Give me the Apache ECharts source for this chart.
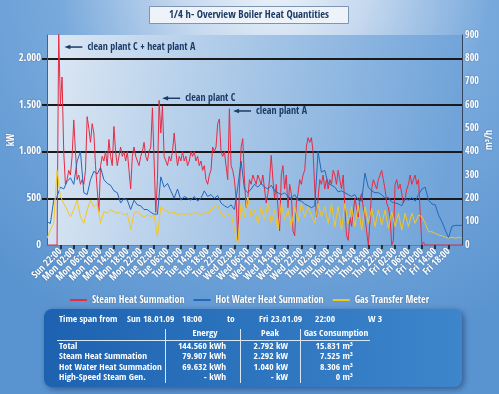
<!DOCTYPE html>
<html><head><meta charset="utf-8">
<script src="https://cdn.jsdelivr.net/npm/echarts@6/dist/echarts.min.js"></script>
<style>html,body{margin:0;padding:0;background:#5d97d3}#c{width:499px;height:394px;}</style>
</head><body><div id="c"></div>
<script>
// ---------------- DATA ----------------
const titleText = '1/4 h- Overview Boiler Heat Quantities';
const seriesNames = ['Steam Heat Summation', 'Hot Water Heat Summation', 'Gas Transfer Meter'];
const tickLabels = ['Sun 22:00',
  'Mon 02:00','Mon 06:00','Mon 10:00','Mon 14:00','Mon 18:00','Mon 22:00',
  'Tue 02:00','Tue 06:00','Tue 10:00','Tue 14:00','Tue 18:00','Tue 22:00',
  'Wed 02:00','Wed 06:00','Wed 10:00','Wed 14:00','Wed 18:00','Wed 22:00',
  'Thu 02:00','Thu 06:00','Thu 10:00','Thu 14:00','Thu 18:00','Thu 22:00',
  'Fri 02:00','Fri 06:00','Fri 10:00','Fri 14:00','Fri 18:00','Fri 22:00'];
const kwGridValues = [500, 1000, 1500, 2000];
// Steam heat (kW), half-hour steps from Sun 18:00
const steamKW = [
  0,0,0,0,0,0,0,2290,
  1500,1800,1000,650,700,800,750,950,
  1340,1000,700,750,650,700,650,800,
  1375,1250,1100,1300,1200,850,600,360,
  850,950,900,1000,850,1130,950,850,
  1270,1000,850,950,1050,950,1000,900,
  1000,800,600,950,1050,950,900,850,
  950,1000,1100,950,900,1000,1050,1470,
  900,350,700,1550,1200,1490,950,900,
  850,950,900,1000,1200,1000,850,950,
  900,1000,900,950,850,900,1000,950,
  1000,900,950,850,900,800,850,700,
  650,750,800,1050,1000,1050,1300,1350,
  1000,950,1000,1000,700,1460,850,800,
  700,500,50,600,1050,1140,700,400,
  500,700,650,750,700,650,750,700,
  650,750,600,450,550,700,960,700,
  500,650,400,150,750,850,600,750,
  400,650,550,150,100,450,550,700,
  650,750,800,1050,1150,1100,1150,1000,
  600,300,500,700,650,750,600,700,
  600,700,650,800,750,650,800,700,
  600,750,400,100,50,300,200,350,
  500,400,300,500,550,400,300,150,
  0,250,600,700,650,600,700,750,
  800,700,600,450,400,300,0,50,
  650,700,600,650,550,450,500,600,
  650,750,650,700,750,650,700,350,
  0,30,0,0,0,0,0,0,
  0,0,0,0,0,0,0,0,
  0,0,0,0,0,0,0,0,
  0];
// Hot water heat (kW), hourly from Sun 18:00
const hotWaterKW = [
  250,230,480,520,620,600,680,720,650,900,
  1000,560,540,700,790,760,830,700,660,640,
  580,560,450,500,480,380,480,430,420,380,
  380,350,330,330,730,620,660,580,500,600,
  480,520,500,480,520,470,500,580,520,540,
  500,530,450,420,400,430,380,620,900,600,
  560,600,650,620,660,620,600,640,580,560,
  540,560,520,500,540,480,470,440,420,400,
  420,1000,780,800,660,640,620,570,580,560,
  540,520,540,480,470,770,620,580,560,560,
  540,500,510,460,450,440,420,500,480,510,
  470,540,600,620,480,440,430,320,250,160,
  80,200,210,210,210];
// Gas transfer meter (m³/h), hourly from Sun 18:00
const gasM3h = [
  29,64,93,320,210,178,150,121,150,193,
  121,93,150,193,164,178,93,143,136,150,
  143,136,143,129,136,64,136,143,129,121,
  129,121,129,36,164,150,143,136,140,129,
  136,130,136,129,140,136,129,140,136,150,
  164,171,136,121,129,136,64,7,178,121,
  207,121,150,93,164,107,178,93,150,64,
  178,107,150,79,164,100,178,121,164,129,
  93,178,121,164,93,178,79,164,64,178,
  93,164,79,171,64,164,93,157,79,150,
  86,150,71,143,79,136,64,136,79,136,
  93,129,121,93,57,57,50,43,39,33,
  29,33,29,33,29];
// annotations anchored at (hour, kW)
const annotations = [
  {text: 'clean plant C + heat plant A', h: 5.2, kW: 2121},
  {text: 'clean plant C', h: 34.4, kW: 1572},
  {text: 'clean plant A', h: 55.6, kW: 1436}];
// summary table
const timeSpan = ['Time span from', 'Sun 18.01.09', '18:00', 'to', 'Fri 23.01.09', '22:00', 'W 3'];
const tableHeaders = ['Energy', 'Peak', 'Gas Consumption'];
const tableRows = ['Total', 'Steam Heat Summation', 'Hot Water Heat Summation', 'High-Speed Steam Gen.'];
const energyCol = ['144.560 kWh', '79.907 kWh', '69.632 kWh', '- kWh'];
const peakCol = ['2.792 kW', '2.292 kW', '1.040 kW', '- kW'];
const gasCol = ['15.831 m³', '7.525 m³', '8.306 m³', '0 m³'];

// ---------------- CHART ----------------
const FONT = '"Open Sans Condensed","Roboto Condensed","Liberation Sans",sans-serif';
const WHITE_TXT = {color: '#fff', fontWeight: 'bold', fontFamily: FONT,
  textShadowColor: 'rgba(20,40,80,0.45)', textShadowBlur: 2};
const NAVY = '#1d3b66';
const colors = ['#e42c45', '#2467b8', '#f5c61e'];
const halfHours = steamKW.map((_, i) => i / 2);
const hours = hotWaterKW.map((_, i) => i);
const deNum = v => v >= 1000 ? Math.floor(v / 1000) + '.' + String(v % 1000).padStart(3, '0') : String(v);

const chart = echarts.init(document.getElementById('c'));
chart.setOption({
  animation: false,
  backgroundColor: {type: 'radial', x: 0.55, y: -0.05, r: 1.0, colorStops: [
    {offset: 0, color: '#eef4fa'}, {offset: 0.25, color: '#c3d7ee'},
    {offset: 0.55, color: '#78a9dc'}, {offset: 1, color: '#5a94d0'}]},
  color: colors,
  grid: {left: 47, right: 37, top: 35, bottom: 149, show: true, borderWidth: 0,
    containLabel: false, outerBoundsMode: 'none',
    backgroundColor: {type: 'linear', x: 0, y: 0, x2: 1, y2: 0.3, colorStops: [
      {offset: 0, color: '#dde8f4'}, {offset: 1, color: '#6fa3d9'}]}},
  legend: {top: 290, left: 'center', icon: 'rect', itemWidth: 17, itemHeight: 2, itemGap: 9,
    textStyle: Object.assign({fontSize: 10}, WHITE_TXT), data: seriesNames},
  xAxis: {type: 'value', min: 0, max: 124, interval: 4,
    axisLine: {show: true, lineStyle: {color: '#6b7d95', width: 1}},
    axisTick: {show: true, length: 4, lineStyle: {color: '#111', width: 1.5}},
    splitLine: {show: false},
    axisLabel: Object.assign({rotate: 45, margin: 5, fontSize: 10, showMinLabel: false,
      formatter: v => v < 4 ? '' : tickLabels[(v - 4) / 4]}, WHITE_TXT)},
  yAxis: [
    {type: 'value', min: 0, max: 2250, interval: 500, name: 'kW', nameLocation: 'middle',
      nameGap: 31, nameRotate: 90, nameMoveOverlap: false,
      nameTextStyle: Object.assign({fontSize: 10}, WHITE_TXT),
      axisLine: {show: true, lineStyle: {color: '#4f6078', width: 1}},
      axisTick: {show: true, length: 5, customValues: kwGridValues,
        lineStyle: {color: '#1a1a1a', width: 2}},
      axisLabel: Object.assign({fontSize: 10.5, margin: 6, showMaxLabel: false,
        formatter: v => v > 2000 ? '' : deNum(v)}, WHITE_TXT),
      splitLine: {show: true, showMinLine: true, showMaxLine: true,
        lineStyle: {color: '#1a1a1a', width: 2}}},
    {type: 'value', min: 0, max: 900, interval: 100, position: 'right', name: 'm³/h',
      nameLocation: 'middle', nameGap: 22, nameRotate: 90, nameMoveOverlap: false,
      nameTextStyle: Object.assign({fontSize: 10}, WHITE_TXT),
      axisLine: {show: true, lineStyle: {color: '#33445c', width: 1}},
      axisTick: {show: false}, splitLine: {show: false},
      axisLabel: Object.assign({fontSize: 10, margin: 3}, WHITE_TXT)}
  ],
  series: [
    {name: seriesNames[0], type: 'line', yAxisIndex: 0, symbol: 'none',
      data: halfHours.map((t, i) => [t, steamKW[i]]), lineStyle: {width: 1, color: colors[0]}, z: 2},
    {name: seriesNames[1], type: 'line', yAxisIndex: 0, symbol: 'none',
      data: hours.map((t, i) => [t, hotWaterKW[i]]), lineStyle: {width: 1, color: colors[1]}, z: 3},
    {name: seriesNames[2], type: 'line', yAxisIndex: 1, symbol: 'none',
      data: hours.map((t, i) => [t, gasM3h[i]]), lineStyle: {width: 1, color: colors[2]}, z: 4}
  ]
});

// ---------------- GRAPHICS: title, annotations, table ----------------
const g = [];
g.push({type: 'rect', shape: {x: 149.5, y: 6.5, width: 199, height: 17},
  style: {fill: '#eef3fa', stroke: '#7f94b0', lineWidth: 1}});
g.push({type: 'text', x: 249, y: 15, style: {text: titleText, fill: NAVY, font: 'bold 10.5px ' + FONT,
  align: 'center', verticalAlign: 'middle'}});
annotations.forEach(a => {
  const p = chart.convertToPixel({xAxisIndex: 0, yAxisIndex: 0}, [a.h, a.kW]);
  const x = p[0], y = p[1];
  g.push({type: 'line', shape: {x1: x + 5, y1: y, x2: x + 18, y2: y}, style: {stroke: NAVY, lineWidth: 1.5}});
  g.push({type: 'polygon', shape: {points: [[x, y], [x + 6, y - 2.3], [x + 6, y + 2.3]]}, style: {fill: NAVY}});
  g.push({type: 'text', x: x + 23, y: y, style: {text: a.text, fill: NAVY, font: 'bold 10px ' + FONT,
    verticalAlign: 'middle'}});
});
g.push({type: 'rect', shape: {x: 44, y: 309, width: 418, height: 78, r: 8},
  style: {fill: {type: 'linear', x: 0, y: 0, x2: 1, y2: 0, colorStops: [
    {offset: 0, color: '#1d62b0'}, {offset: 1, color: '#3d86cc'}]},
    shadowBlur: 6, shadowColor: 'rgba(0,20,60,0.45)', shadowOffsetX: 2, shadowOffsetY: 2}});
const tf = 'bold 9.5px ' + FONT;
const txt = (s, x, y, align) => g.push({type: 'text', x: x, y: y,
  style: {text: s, fill: '#fff', font: tf, align: align || 'left', verticalAlign: 'middle'}});
const spanX = [59, 127, 182, 227, 259, 315, 368];
timeSpan.forEach((s, i) => txt(s, spanX[i], 320));
const headX = [205, 270, 336];
tableHeaders.forEach((s, i) => txt(s, headX[i], 334, 'center'));
g.push({type: 'line', shape: {x1: 57, y1: 340.5, x2: 370, y2: 340.5}, style: {stroke: '#d8e6f5', lineWidth: 1}});
[165.5, 240.5, 300.5].forEach(x => g.push({type: 'line', shape: {x1: x, y1: 329, x2: x, y2: 383},
  style: {stroke: '#d8e6f5', lineWidth: 1}}));
const rowY = [346.5, 357, 367.5, 377.5];
tableRows.forEach((s, i) => {
  txt(s, 59, rowY[i]);
  txt(energyCol[i], 226, rowY[i], 'right');
  txt(peakCol[i], 288, rowY[i], 'right');
  txt(gasCol[i], 353, rowY[i], 'right');
});
chart.setOption({graphic: g});
</script></body></html>
